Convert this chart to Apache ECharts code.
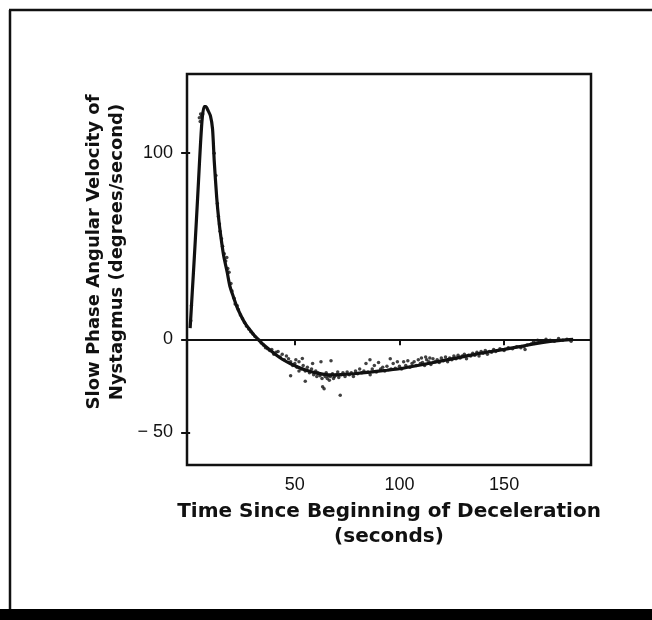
<!DOCTYPE html>
<html>
<head>
<meta charset="utf-8">
<script src="https://cdn.jsdelivr.net/npm/echarts@6/dist/echarts.min.js"></script>
<style>
html,body{margin:0;padding:0;background:#fff;}
#chart{width:652px;height:620px;}
</style>
</head>
<body>
<div id="chart"></div>
<script>
// ---- data ----
var xTicks = [50, 100, 150];
var yTicks = [-50, 0, 100];
var xTitle = 'Time Since Beginning of Deceleration\n(seconds)';
var yTitle = 'Slow Phase Angular Velocity of\nNystagmus (degrees/second)';

// fitted curve (time s, velocity deg/s)
var fitCurve = [[0,6],[1,25],[2,44],[3,64],[4,85],[5,106],[5.8,119],[6.7,125],[7.5,125],[8.5,123],[9.7,120],[10.7,113],[11.5,96],[12.7,76],[13.7,64],[14.7,55],[16,45],[17.7,36],[19,28.5],[20.6,23],[22.5,17],[24.6,12],[26.5,8.2],[28.6,5],[30.5,2.3],[32.5,0],[34.5,-2.3],[36.5,-4.3],[40.5,-7.9],[44,-10.7],[48,-13.1],[52,-15.1],[56,-16.8],[60,-18],[64,-18.8],[68,-19.1],[72,-19],[78,-18.5],[86,-17.6],[94,-16.6],[100,-15.8],[110,-13.8],[120,-11.6],[130,-9.4],[140,-7.2],[150,-5.4],[158,-3.8],[165,-2.3],[172,-1.1],[178,-0.4],[183,0]];

// measured points
var measured = [[0.3,10],[0.6,18],[4.4,119],[5,121],[4.8,117],[5.5,120],[6,121],
[11.5,100],[12.3,88],[13,73],[13.5,66],[14,62],[14.3,58],[15,54],[15.5,50],[16.3,46],[17,42],[17.5,44],[18,38],[18.6,36],[19.5,30],[20,26],[21,22],[21.5,19],[22.5,18],[23,16],[24,13],[25,11],[26,9],[27,7],[28,5.5],[29,4],[30,2.8],[31,1.5],[33,-0.5],[34,-2],[35,-3],[36,-4.5],[37,-5],[38,-6],[39,-5.5],[40,-8],[41,-7],[42,-6.5],[43,-9.5],[44,-8],[45,-11],[46,-9],[47,-10.5],[48,-12],[48,-19.5],[49,-14],[50,-13],[50.5,-11],[51,-15],[52,-12],[52,-17],[53,-16],[53.6,-10.3],[54,-14],[55,-22.5],[55,-17],[56,-15],[57,-18],[58,-16],[58.5,-13],[59,-19],[60,-17],[60.5,-20],[61,-18],[62,-19.5],[62.5,-12],[63,-21],[63.3,-25.5],[64,-26.5],[64.5,-20],[65,-18],[65.5,-21],[66,-19.5],[66.5,-22],[67,-20],[67.3,-11.5],[68,-18.5],[68.5,-21],[69,-20],[70,-19],[70.5,-17.5],[71,-20.5],[71.7,-30],[72,-19],[73,-18],[74,-20],[75,-17.5],[76,-19],[77,-18],[78,-20],[79,-17],[80,-18.5],[81,-16],[82,-18],[83,-17],[84,-13],[85,-17.5],[85.9,-11],[86,-19],[87,-16],[88,-14],[89,-17.5],[90,-12.5],[91,-16],[92,-15],[93,-17],[94,-14.5],[95.6,-10.5],[96,-16],[97,-13],[98,-15.5],[99,-12],[100,-14.5],[101,-16],[102,-12],[103,-14],[104,-11.5],[105,-15],[106,-13],[107,-12],[108,-14],[109,-11],[110,-13],[110.5,-10],[111,-12.5],[112,-14],[112.5,-9.5],[113,-11],[114,-12],[114.5,-10],[115,-13.5],[116,-10.5],[117,-12],[118,-11],[119,-12.5],[120,-10],[121,-11.5],[122,-9.5],[123,-12],[124,-10],[125,-11],[126,-9],[127,-10.5],[128,-8.5],[129,-10],[130,-9],[131,-8],[132,-10.5],[133,-8.5],[134,-9],[135,-7.5],[136,-8.5],[137,-7],[138,-9],[139,-6.5],[140,-7.5],[141,-6],[142,-8],[143,-6.5],[144,-7],[145,-5.5],[146,-6.5],[148,-5],[150,-6],[152,-4.5],[154,-5],[156,-4],[158,-4.5],[159.5,-4],[160,-5.5],[161,-3],[163,-2.5],[164,-1.5],[165,-2],[166,-0.5],[167,-1],[168,-1.5],[170,0],[172,-0.5],[174,-1],[176,0.5],[178,-0.5],[180,0],[182,-1]];

var xRange = [-1.5, 191.5];
var yRange = [-67.5, 142.5];

// ---- chart ----
var chart = echarts.init(document.getElementById('chart'), null, {renderer: 'canvas'});
var ink = '#111';
var titleFont = 'DejaVu Sans';
var tickFont = 'Liberation Sans';

chart.setOption({
  animation: false,
  backgroundColor: '#fff',
  grid: {left: 187, right: 61, top: 74, bottom: 155, show: true, borderColor: ink, borderWidth: 2.5, backgroundColor: 'transparent'},
  xAxis: {
    type: 'value', min: xRange[0], max: xRange[1],
    axisLine: {show: false},
    splitLine: {show: false},
    axisTick: {show: true, customValues: xTicks, length: 6, inside: false, lineStyle: {color: ink, width: 2}},
    axisLabel: {customValues: xTicks, color: ink, fontFamily: tickFont, fontSize: 18, margin: 11},
    name: xTitle, nameLocation: 'middle', nameGap: 31,
    nameTextStyle: {color: ink, fontFamily: titleFont, fontWeight: 'bold', fontSize: 20, lineHeight: 25, align: 'center', verticalAlign: 'top'}
  },
  yAxis: {
    type: 'value', min: yRange[0], max: yRange[1],
    axisLine: {show: false},
    splitLine: {show: false},
    axisTick: {show: true, customValues: yTicks, length: 9, inside: false, lineStyle: {color: ink, width: 2}},
    axisLabel: {customValues: yTicks, color: ink, fontFamily: tickFont, fontSize: 18, margin: 14,
      formatter: function (v) { return v < 0 ? '\u2212 ' + Math.abs(v) : String(v); }}
  },
  series: [
    {
      type: 'scatter', data: measured, symbol: 'circle', symbolSize: 3.5,
      itemStyle: {color: ink}, z: 2
    },
    {
      type: 'line', data: fitCurve, smooth: 0.25, showSymbol: false, symbol: 'none',
      lineStyle: {color: ink, width: 3.2}, z: 3,
      markLine: {
        silent: true, symbol: 'none', label: {show: false},
        lineStyle: {color: ink, width: 2, type: 'solid'},
        data: [{yAxis: 0}]
      }
    }
  ],
  graphic: [
    {type: 'text', x: 106, y: 252, rotation: Math.PI / 2,
      style: {text: yTitle, fill: ink, font: 'bold 18px "DejaVu Sans"', align: 'center', verticalAlign: 'middle', lineHeight: 23}},
    {type: 'line', shape: {x1: 10, y1: 10, x2: 10, y2: 611}, style: {stroke: ink, lineWidth: 2.5}},
    {type: 'line', shape: {x1: 9, y1: 10, x2: 652, y2: 10}, style: {stroke: ink, lineWidth: 2.5}},
    {type: 'rect', shape: {x: 0, y: 609, width: 652, height: 11}, style: {fill: '#000'}}
  ]
});
</script>
</body>
</html>
